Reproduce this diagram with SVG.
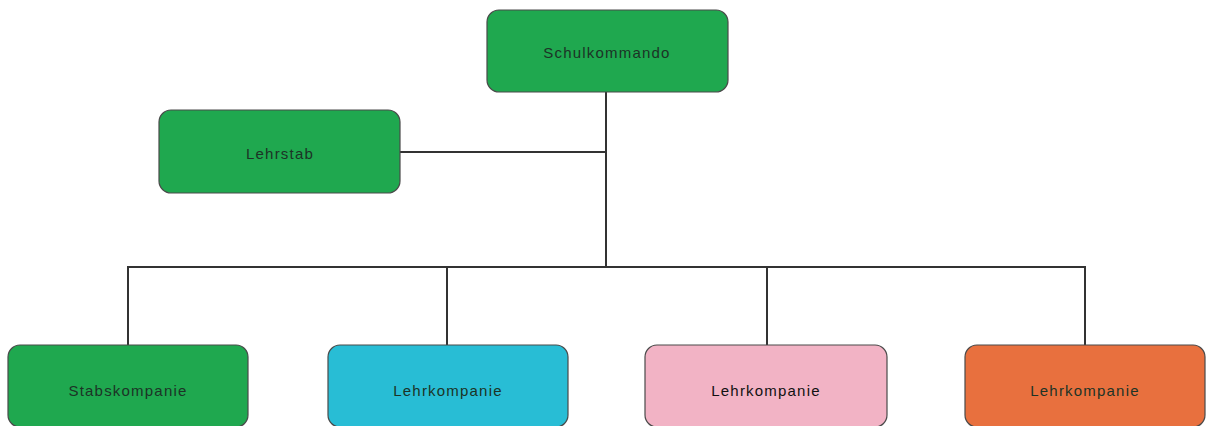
<svg xmlns="http://www.w3.org/2000/svg" width="1208" height="426" viewBox="0 0 1208 426">
  <style>
    .box { stroke: #4a4a4a; stroke-width: 1.2; }
    .green { fill: #1fa84f; }
    .cyan { fill: #28bdd5; }
    .pink { fill: #f2b3c5; }
    .orange { fill: #e8703e; }
    .label { font-family: "Liberation Sans", Arial, sans-serif; font-size: 15px; letter-spacing: 1.2px; text-anchor: middle; dominant-baseline: central; fill: #1c3326; }
    .conn { stroke: #333; stroke-width: 2; fill: none; }
  </style>
  <rect width="1208" height="426" fill="#ffffff"/>
  <g id="connectors">
    <path class="conn" d="M606 92 V267"/>
    <path class="conn" d="M400 152 H606"/>
    <path class="conn" d="M128 345 V267 H1085 V345"/>
    <path class="conn" d="M447 267 V345"/>
    <path class="conn" d="M767 267 V345"/>
  </g>
  <g id="schulkommando">
    <rect class="box green" x="487" y="10" width="241" height="82" rx="12"/>
    <text class="label" x="607" y="52">Schulkommando</text>
  </g>
  <g id="lehrstab">
    <rect class="box green" x="159" y="110" width="241" height="83" rx="12"/>
    <text class="label" x="280" y="153">Lehrstab</text>
  </g>
  <g id="stabskompanie">
    <rect class="box green" x="8" y="345" width="240" height="82" rx="12"/>
    <text class="label" x="128" y="390">Stabskompanie</text>
  </g>
  <g id="lehrkompanie-1">
    <rect class="box cyan" x="328" y="345" width="240" height="82" rx="12"/>
    <text class="label" x="448" y="390">Lehrkompanie</text>
  </g>
  <g id="lehrkompanie-2">
    <rect class="box pink" x="645" y="345" width="242" height="82" rx="12"/>
    <text class="label" x="766" y="390" style="fill:#111">Lehrkompanie</text>
  </g>
  <g id="lehrkompanie-3">
    <rect class="box orange" x="965" y="345" width="240" height="82" rx="12"/>
    <text class="label" x="1085" y="390">Lehrkompanie</text>
  </g>
</svg>
